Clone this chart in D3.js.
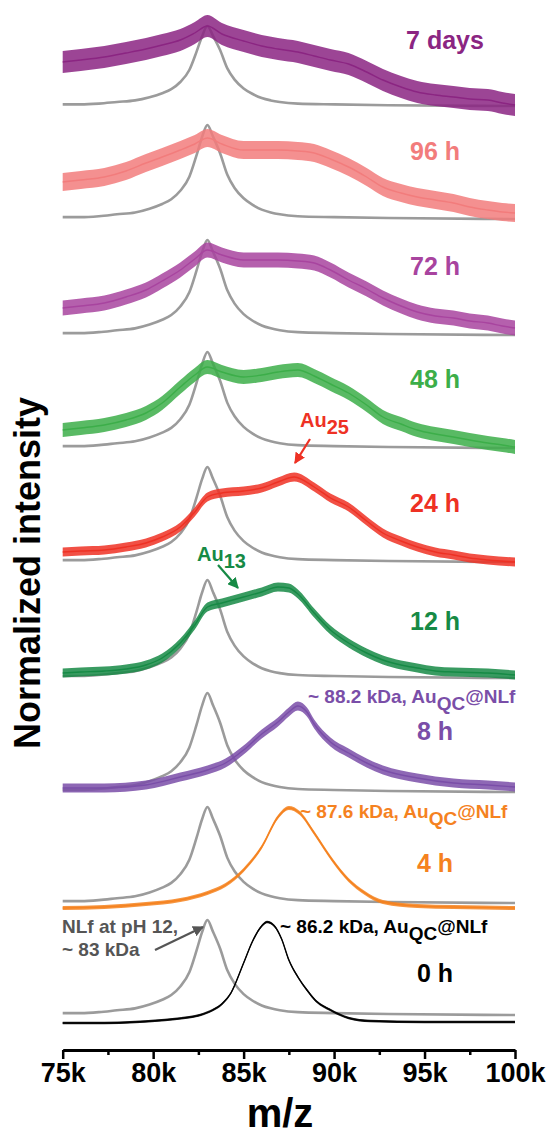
<!DOCTYPE html>
<html>
<head>
<meta charset="utf-8">
<script src="https://cdn.jsdelivr.net/npm/d3@7"></script>
<style>
  body { margin: 0; background: #fff; }
  svg text { font-family: "Liberation Sans", Arial, sans-serif; font-weight: bold; }
</style>
</head>
<body>
<svg id="chart" width="547" height="1139"></svg>
<script>
// m/z in kDa
const mzTicks = [75, 80, 85, 90, 95, 100]
const mzMinorTicks = [77.5, 82.5, 87.5, 92.5, 97.5]

const timeLabels = ['0 h', '4 h', '8 h', '12 h', '24 h', '48 h', '72 h', '96 h', '7 days']
const timeColors = ['#000000', '#f5821f', '#7a4ea8', '#168a45', '#ee3124', '#3cae49', '#a8449f', '#f27c7c', '#8b2582']

// baseline of each stacked pair (normalized intensity units)
const panelOffsets = [0.07, 1.19, 2.30, 3.44, 4.60, 5.74, 6.87, 8.03, 9.16]

// NLf at pH 12 reference (grey), same spectrum in every panel
const nlfHeights = [0.95, 0.96, 0.99, 0.98, 0.95, 0.96, 0.95, 0.94, 0.80]
const nlfShape = [
  [75, 0.02], [76, 0.02], [77, 0.03], [78, 0.05], [79, 0.07], [79.8, 0.11], [80.5, 0.16],
  [81, 0.21], [81.5, 0.30], [82, 0.45], [82.4, 0.68], [82.7, 0.87], [83, 1.0], [83.3, 0.88],
  [83.7, 0.70], [84.1, 0.47], [84.5, 0.33], [85, 0.22], [85.5, 0.15], [86, 0.10], [86.5, 0.07],
  [87, 0.05], [88, 0.03], [90, 0.02], [93, 0.01], [100, 0.0]
]

// coloured traces, height above the panel baseline
const trace0h = [
  [75, -0.08], [77.3, -0.08], [79, -0.07], [81.2, -0.04], [82.6, 0.0], [83.3, 0.05], [83.8, 0.11],
  [84.3, 0.22], [85, 0.52], [85.5, 0.74], [86, 0.89], [86.3, 0.93], [86.7, 0.89], [87.1, 0.76],
  [87.5, 0.55], [88, 0.38], [88.5, 0.25], [89, 0.14], [89.8, 0.05], [90.8, -0.03], [92, -0.06],
  [95, -0.07], [100, -0.07]
]
const trace4h = [
  [75, -0.05], [77.3, -0.04], [79.6, -0.01], [81.5, 0.03], [83, 0.10], [84, 0.18], [85, 0.33],
  [86, 0.56], [86.9, 0.86], [87.5, 0.95], [88.1, 0.90], [88.9, 0.70], [89.9, 0.43], [90.8, 0.23],
  [91.7, 0.10], [92.7, 0.01], [94.6, -0.03], [96.6, -0.04], [100, -0.05]
]
const trace8h = [
  [75, 0.04], [77.3, 0.04], [79.6, 0.07], [81.5, 0.15], [83, 0.22], [84, 0.29], [85, 0.42],
  [86, 0.58], [86.9, 0.70], [87.5, 0.80], [88, 0.86], [88.5, 0.80], [88.9, 0.68], [89.8, 0.50],
  [90.8, 0.39], [91.8, 0.29], [92.7, 0.22], [94.6, 0.14], [96.6, 0.09], [98.5, 0.07], [100, 0.05]
]
const trace12h = [
  [75, 0.05], [76, 0.06], [77.3, 0.07], [78.5, 0.09], [79.6, 0.13], [80.5, 0.20], [81.5, 0.35],
  [82.3, 0.53], [83, 0.71], [83.8, 0.75], [85, 0.81], [86, 0.86], [86.9, 0.91], [87.5, 0.90],
  [88, 0.84], [88.9, 0.65], [89.8, 0.48], [90.8, 0.35], [91.8, 0.25], [92.7, 0.18], [93.7, 0.13],
  [94.6, 0.10], [95.6, 0.07], [96.6, 0.06], [98.5, 0.05], [100, 0.03]
]
const trace24h = [
  [75, 0.10], [76, 0.11], [77.3, 0.12], [78.5, 0.15], [79.6, 0.19], [80.5, 0.25], [81.5, 0.35],
  [82.3, 0.50], [83, 0.65], [83.8, 0.69], [85, 0.71], [86, 0.74], [86.9, 0.80], [87.8, 0.85],
  [88.9, 0.75], [89.8, 0.64], [90.8, 0.55], [91.8, 0.41], [92.7, 0.29], [93.7, 0.21], [94.6, 0.15],
  [95.6, 0.10], [96.6, 0.07], [97.5, 0.04], [98.5, 0.02], [100, 0.0]
]
const trace48h = [
  [75, 0.18], [76, 0.20], [77.3, 0.23], [78.5, 0.28], [79.6, 0.35], [80.5, 0.45], [81.5, 0.61],
  [82.3, 0.73], [83, 0.81], [83.8, 0.76], [85, 0.71], [86, 0.73], [86.9, 0.76], [88, 0.78],
  [88.9, 0.72], [89.8, 0.64], [90.8, 0.55], [91.8, 0.43], [92.7, 0.31], [93.7, 0.24], [94.6, 0.18],
  [95.6, 0.14], [96.6, 0.11], [97.5, 0.08], [98.5, 0.05], [99.3, 0.03], [100, 0.01]
]
const trace72h = [
  [75, 0.27], [76, 0.29], [77.3, 0.32], [78.5, 0.38], [79.6, 0.45], [80.5, 0.54], [81.5, 0.65],
  [82.3, 0.76], [83, 0.85], [83.8, 0.80], [85, 0.75], [86, 0.75], [86.9, 0.75], [88, 0.74],
  [88.9, 0.72], [89.8, 0.65], [90.8, 0.55], [91.8, 0.46], [92.7, 0.37], [93.7, 0.29], [94.6, 0.23],
  [95.6, 0.19], [96.6, 0.17], [97.5, 0.14], [98.5, 0.12], [99.3, 0.09], [100, 0.07]
]
const trace96h = [
  [75, 0.37], [76, 0.39], [77.3, 0.42], [78.5, 0.48], [79.6, 0.56], [80.5, 0.62], [81.5, 0.69],
  [82.3, 0.75], [83, 0.81], [83.8, 0.75], [85, 0.69], [86, 0.69], [86.9, 0.69], [88, 0.68],
  [88.9, 0.66], [89.8, 0.60], [90.8, 0.52], [91.8, 0.42], [92.7, 0.32], [93.7, 0.26], [94.6, 0.22],
  [95.6, 0.19], [96.6, 0.16], [97.5, 0.12], [98.5, 0.09], [99.3, 0.07], [100, 0.06]
]
const trace7d = [
  [75, 0.44], [76, 0.46], [77.3, 0.49], [78.5, 0.53], [79.6, 0.57], [80.5, 0.61], [81.5, 0.66],
  [82.3, 0.73], [83, 0.80], [83.8, 0.72], [85, 0.65], [86, 0.60], [86.9, 0.57], [88, 0.54],
  [88.9, 0.50], [89.8, 0.46], [90.8, 0.42], [91.8, 0.34], [92.7, 0.26], [93.7, 0.19], [94.6, 0.14],
  [95.6, 0.11], [96.6, 0.09], [97.5, 0.07], [98.5, 0.06], [99.3, 0.03], [100, 0.01]
]
const traces = [trace0h, trace4h, trace8h, trace12h, trace24h, trace48h, trace72h, trace96h, trace7d]

// half-width of the noise band of each coloured trace
const noiseWidth = [0.012, 0.02, 0.045, 0.045, 0.045, 0.07, 0.075, 0.09, 0.11]

const svg = d3.select('#chart')

const x = d3.scaleLinear().domain([75, 100]).range([62.7, 515])
const y = d3.scaleLinear().domain([0, 10]).range([1022, 22])

const line = d3.line()
  .x(d => x(d[0]))
  .y(d => y(d[1]))
  .curve(d3.curveMonotoneX)

const band = d3.area()
  .x(d => x(d[0]))
  .y0(d => y(d[1] - d[2]))
  .y1(d => y(d[1] + d[2]))
  .curve(d3.curveMonotoneX)

// label lift above the baseline (px)
const labelLift = [33, 31, 52, 48, 50, 60, 60, 59, 57]

const g = svg.append('g').attr('class', 'traces')

traces.forEach((trace, i) => {
  const off = panelOffsets[i]
  const grey = nlfShape.map(([m, v]) => [m, off + nlfHeights[i] * v])

  g.append('path')
    .attr('d', line(grey))
    .attr('fill', 'none')
    .attr('stroke', '#9b9b9b')
    .attr('stroke-width', 2.6)

  const pts = trace.map(([m, v]) => [m, off + v, noiseWidth[i]])
  g.append('path')
    .attr('d', band(pts))
    .attr('fill', timeColors[i])
    .attr('fill-opacity', 0.85)

  g.append('path')
    .attr('d', line(pts))
    .attr('fill', 'none')
    .attr('stroke', timeColors[i])
    .attr('stroke-width', 1.4)

  svg.append('text')
    .attr('x', i === 8 ? 445 : 435)
    .attr('y', y(off) - labelLift[i])
    .attr('text-anchor', 'middle')
    .attr('font-size', 25)
    .attr('fill', timeColors[i])
    .text(timeLabels[i])
})

// arrows
const defs = svg.append('defs')
function arrowHead(id, color) {
  defs.append('marker')
    .attr('id', id)
    .attr('viewBox', '0 0 10 10')
    .attr('refX', 9).attr('refY', 5)
    .attr('markerWidth', 5).attr('markerHeight', 5)
    .attr('orient', 'auto')
    .append('path')
    .attr('d', 'M0,0L10,5L0,10z')
    .attr('fill', color)
}
arrowHead('ah-red', '#ee3124')
arrowHead('ah-green', '#168a45')
arrowHead('ah-grey', '#555555')

function arrow(x1, y1, x2, y2, id, color) {
  svg.append('line')
    .attr('x1', x1).attr('y1', y1).attr('x2', x2).attr('y2', y2)
    .attr('stroke', color).attr('stroke-width', 2.2)
    .attr('marker-end', `url(#${id})`)
}
arrow(310, 439, 295, 463, 'ah-red', '#ee3124')
arrow(218, 565, 238, 588, 'ah-green', '#168a45')
arrow(155, 950, 203, 927, 'ah-grey', '#555555')

// annotations with subscripts
function subText(px, py, color, size, before, sub, after) {
  const t = svg.append('text')
    .attr('x', px).attr('y', py)
    .attr('font-size', size)
    .attr('fill', color)
  t.append('tspan').text(before)
  t.append('tspan').attr('dy', 7).text(sub)
  if (after) t.append('tspan').attr('dy', -7).text(after)
}
subText(300, 427, '#ee3124', 20, 'Au', '25')
subText(197, 561, '#168a45', 20, 'Au', '13')
subText(308, 703, '#7a4ea8', 19, '~ 88.2 kDa, Au', 'QC', '@NLf')
subText(300, 818, '#f5821f', 19, '~ 87.6 kDa, Au', 'QC', '@NLf')
subText(280, 933, '#000000', 19, '~ 86.2 kDa, Au', 'QC', '@NLf')

svg.append('text')
  .attr('x', 62).attr('y', 933)
  .attr('font-size', 19).attr('fill', '#555555')
  .text('NLf at pH 12,')
svg.append('text')
  .attr('x', 62).attr('y', 956)
  .attr('font-size', 19).attr('fill', '#555555')
  .text('~ 83 kDa')

// x axis
const axisY = 1050
const xAxis = d3.axisBottom(x)
  .tickValues(mzTicks)
  .tickFormat(d => d + 'k')
  .tickSize(9)
  .tickSizeOuter(0)
  .tickPadding(4)

const ax = svg.append('g')
  .attr('transform', `translate(0,${axisY})`)
  .call(xAxis)
ax.select('.domain').attr('stroke-width', 3).attr('stroke', '#000')
ax.selectAll('.tick line').attr('stroke-width', 2.5)
ax.selectAll('.tick text')
  .attr('font-size', 27)
  .attr('font-family', '"Liberation Sans", Arial, sans-serif')
  .attr('font-weight', 'bold')
  .attr('fill', '#000')

const minor = svg.append('g')
  .attr('transform', `translate(0,${axisY})`)
  .call(d3.axisBottom(x).tickValues(mzMinorTicks).tickFormat('').tickSize(5).tickSizeOuter(0))
minor.select('.domain').remove()
minor.selectAll('.tick line').attr('stroke-width', 2.5)

svg.append('text')
  .attr('x', 280).attr('y', 1127)
  .attr('text-anchor', 'middle')
  .attr('font-size', 40)
  .text('m/z')

svg.append('text')
  .attr('transform', 'translate(40,573) rotate(-90)')
  .attr('text-anchor', 'middle')
  .attr('font-size', 36)
  .text('Normalized intensity')
</script>
</body>
</html>
